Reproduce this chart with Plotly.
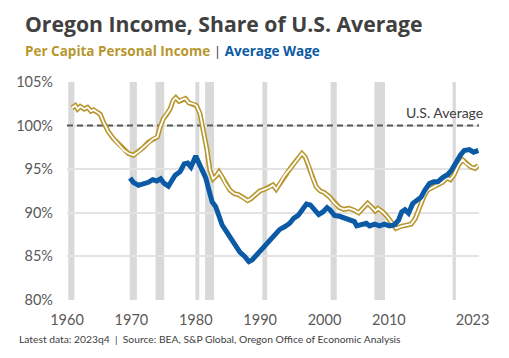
import plotly.graph_objects as go

# Per capita personal income, Oregon as % of U.S.
pcpi_year = [1960.77, 1961.29, 1961.64, 1962.06, 1962.68, 1963.19, 1963.72, 1964.12, 1964.65, 1965.16,
             1965.67, 1966.45, 1967.22, 1968.0, 1968.77, 1969.55, 1970.32, 1971.1, 1971.87, 1972.64,
             1973.42, 1974.04, 1974.46, 1974.97, 1975.5, 1976.0, 1976.5, 1976.9, 1977.4, 1977.9,
             1978.4, 1978.95, 1979.6, 1980.1, 1980.65, 1981.2, 1981.7, 1982.2, 1982.7, 1983.25,
             1983.6, 1984.1, 1984.6, 1985.3, 1986.0, 1986.6, 1987.4, 1988.05, 1988.55, 1989.2,
             1989.95, 1990.7, 1991.5, 1992.0, 1992.5, 1993.05, 1993.8, 1994.6, 1995.2, 1995.9,
             1996.5, 1997.0, 1997.55, 1998.1, 1998.7, 1999.35, 2000.0, 2000.8, 2001.55, 2002.3,
             2003.0, 2003.8, 2004.6, 2005.3, 2005.95, 2006.7, 2007.4, 2007.9, 2008.3, 2009.05,
             2009.8, 2010.45, 2011.1, 2011.9, 2012.7, 2013.45, 2014.1, 2014.75, 2015.4, 2016.0,
             2016.8, 2017.6, 2018.35, 2019.05, 2019.55, 2020.15, 2020.8, 2021.45, 2022.0, 2022.75,
             2023.4, 2023.9]
pcpi_val = [102.05, 102.3, 101.9, 102.2, 101.9, 102.1, 101.65, 101.8, 101.55, 101.3,
            100.4, 99.26, 98.5, 97.9, 97.2, 96.8, 96.6, 97.0, 97.5, 98.1,
            98.5, 98.7, 99.8, 100.8, 101.3, 101.9, 102.9, 103.2, 102.8, 103.0,
            103.1, 102.6, 102.5, 102.3, 101.4, 99.5, 97.4, 94.9, 93.9, 94.3,
            94.7, 94.1, 93.35, 92.6, 92.2, 92.1, 91.75, 91.4, 91.6, 92.0,
            92.5, 92.7, 92.95, 93.2, 92.7, 93.35, 94.3, 95.0, 95.6, 96.2,
            96.8, 96.4, 95.4, 94.1, 93.0, 92.5, 92.3, 91.8, 91.1, 90.6,
            90.4, 90.5, 90.3, 90.0, 90.5, 91.1, 90.6, 90.2, 90.5, 90.1,
            89.5, 88.8, 88.2, 88.45, 88.6, 88.7, 89.35, 90.7, 91.8, 92.6,
            92.9, 93.15, 93.5, 94.0, 93.8, 94.4, 95.45, 96.1, 95.65, 95.25,
            95.1, 95.45]

# Average wage, Oregon as % of U.S.
wage_year = [1969.8, 1970.3, 1971.1, 1971.9, 1972.65, 1973.3, 1973.95, 1974.55, 1975.05, 1975.75,
             1976.25, 1976.8, 1977.55, 1978.2, 1978.75, 1979.25, 1980.0, 1980.5, 1981.0, 1981.55,
             1982.05, 1982.55, 1983.1, 1983.6, 1984.1, 1984.8, 1985.45, 1986.2, 1986.85, 1987.6,
             1988.25, 1988.75, 1989.45, 1990.2, 1991.0, 1991.75, 1992.3, 1993.05, 1993.8, 1994.6,
             1995.2, 1995.9, 1996.5, 1997.2, 1997.8, 1998.5, 1999.1, 1999.75, 2000.4, 2000.9,
             2001.55, 2002.35, 2003.1, 2003.9, 2004.65, 2005.0, 2005.7, 2006.5, 2007.0, 2007.8,
             2008.55, 2009.3, 2010.1, 2010.85, 2011.5, 2012.0, 2012.5, 2013.05, 2013.7, 2014.4,
             2015.0, 2015.6, 2016.3, 2016.95, 2017.6, 2018.35, 2019.15, 2019.75, 2020.4, 2021.1,
             2021.7, 2022.5, 2023.15, 2023.9]
wage_val = [94.0, 93.5, 93.15, 93.3, 93.5, 93.8, 93.65, 93.9, 93.4, 93.05,
            93.7, 94.3, 94.7, 95.6, 95.7, 95.25, 96.5, 95.6, 94.7, 94.0,
            92.6, 91.25, 90.7, 89.5, 88.6, 87.8, 87.05, 86.1, 85.5, 85.0,
            84.4, 84.6, 85.15, 85.7, 86.3, 86.9, 87.45, 88.1, 88.4, 88.8,
            89.35, 89.7, 90.3, 91.0, 90.9, 90.3, 89.8, 90.1, 90.6, 90.3,
            89.7, 89.6, 89.45, 89.25, 89.0, 88.5, 88.6, 88.8, 88.5, 88.7,
            88.5, 88.7, 88.5, 88.6, 89.15, 90.1, 90.35, 89.95, 91.05, 91.5,
            91.8, 92.6, 93.35, 93.55, 93.55, 94.05, 94.4, 94.9, 95.8, 96.6,
            97.15, 97.25, 96.95, 97.15]

# Recession periods (shaded)
rec_start = [1960.2, 1969.75, 1973.75, 1979.95, 1981.45, 1990.35, 2000.95, 2007.75, 2019.9]
rec_end = [1961.15, 1970.85, 1975.1, 1980.55, 1982.85, 1991.1, 2001.9, 2009.4, 2020.4]

x_ticks = [1960, 1970, 1980, 1990, 2000, 2010, 2023]
y_ticks = [80, 85, 90, 95, 100, 105]
us_avg = 100

GOLD = "#B8962E"
BLUE = "#0B5AA5"
FONT = "Lato"
TFONT = "Open Sans"

fig = go.Figure()

for s, e in zip(rec_start, rec_end):
    fig.add_shape(type="rect", xref="x", yref="y", x0=s, x1=e, y0=80, y1=105,
                  fillcolor="#D9D9D9", line_width=0, layer="below")

fig.add_trace(go.Scatter(x=[1960, 2024], y=[us_avg, us_avg], mode="lines",
                         line=dict(color="#595959", width=2, dash="6px,4px"),
                         hoverinfo="skip", showlegend=False))
fig.add_trace(go.Scatter(x=pcpi_year, y=pcpi_val, mode="lines",
                         line=dict(color=GOLD, width=5), showlegend=False))
fig.add_trace(go.Scatter(x=pcpi_year, y=pcpi_val, mode="lines",
                         line=dict(color="white", width=1.8), showlegend=False, hoverinfo="skip"))
fig.add_trace(go.Scatter(x=wage_year, y=wage_val, mode="lines",
                         line=dict(color=BLUE, width=5), showlegend=False))

fig.update_xaxes(range=[1960, 2024], tickvals=x_ticks, ticktext=[str(t) for t in x_ticks],
                 showgrid=False, zeroline=False, showline=False, ticks="",
                 tickfont=dict(family=FONT, size=14.5, color="#595959"), ticklabelstandoff=9)
fig.update_yaxes(range=[80, 105], tickvals=y_ticks, ticktext=[f"{t}%" for t in y_ticks],
                 showgrid=True, gridcolor="#E3E3E3", gridwidth=1.5, zeroline=False, showline=False,
                 ticks="", tickfont=dict(family=FONT, size=14.5, color="#595959"), ticklabelstandoff=13)

fig.update_layout(
    width=509, height=358,
    margin=dict(l=66.7, r=29.7, t=81.5, b=58),
    plot_bgcolor="white", paper_bgcolor="white",
    font=dict(family=FONT),
    annotations=[
        dict(text="<b>Oregon Income, Share of U.S. Average</b>", xref="paper", yref="paper",
             x=-0.1066, y=1.268, xanchor="left", yanchor="middle", showarrow=False,
             font=dict(family=TFONT, size=21.2, color="#404040")),
        dict(text=f"<b><span style='color:{GOLD}'>Per Capita Personal Income</span></b>"
                  f" <span style='color:#404040'>|</span> "
                  f"<b><span style='color:{BLUE}'>Average Wage</span></b>",
             xref="paper", yref="paper", x=-0.1066, y=1.14, xanchor="left", yanchor="middle",
             showarrow=False, font=dict(family=TFONT, size=13.5)),
        dict(text="U.S. Average", xref="paper", yref="y", x=1.0155, y=101.5,
             xanchor="right", yanchor="middle", showarrow=False,
             font=dict(family=FONT, size=14, color="#404040")),
        dict(text="Latest data: 2023q4  |  Source: BEA, S&P Global, Oregon Office of Economic Analysis",
             xref="paper", yref="paper", x=-0.121, y=-0.18, xanchor="left", yanchor="middle",
             showarrow=False, font=dict(family=FONT, size=10.3, color="#404040")),
    ],
)

fig.write_html("out.html", config={"displayModeBar": False},
               post_script="document.body.style.margin='0';document.body.style.overflow='hidden';")
